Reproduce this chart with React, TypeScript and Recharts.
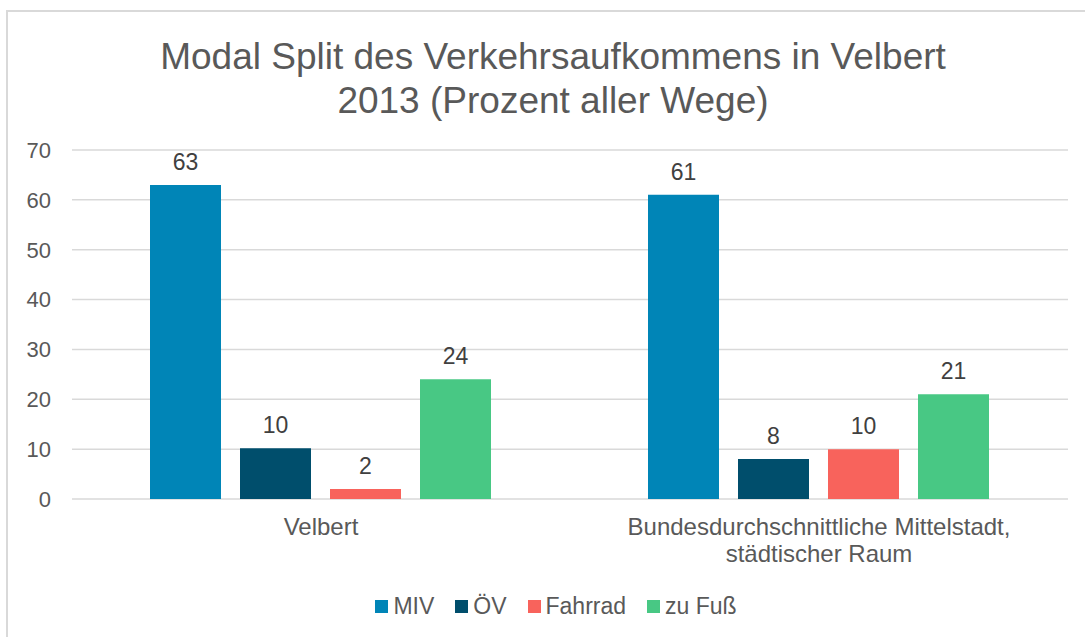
import React from "react";
import { BarChart, Bar, XAxis, YAxis, CartesianGrid, Legend, LabelList } from "recharts";

const categories = ["Velbert", "Bundesdurchschnittliche Mittelstadt, städtischer Raum"];
const miv = [63, 61];
const oev = [10.2, 8];
const fahrrad = [2, 10];
const zuFuss = [24, 21];
const yTicks = [0, 10, 20, 30, 40, 50, 60, 70];

const seriesNames = ["MIV", "ÖV", "Fahrrad", "zu Fuß"];
const seriesKeys = ["miv", "oev", "fahrrad", "zuFuss"];
const seriesColors = ["#0085B7", "#004E6C", "#F8635C", "#48C884"];

const data = categories.map((c, i) => ({
  name: c,
  miv: miv[i],
  oev: oev[i],
  fahrrad: fahrrad[i],
  zuFuss: zuFuss[i],
}));

const FONT = "'Liberation Sans', Arial, sans-serif";

const XTick = (props: any) => {
  const { x, y, payload } = props;
  const v: string = payload.value;
  const idx = v.indexOf(", ");
  const lines = idx >= 0 ? [v.slice(0, idx + 1), v.slice(idx + 2)] : [v];
  return (
    <text x={x} y={y} textAnchor="middle" fill="#595959" fontSize={24} fontFamily={FONT}>
      {lines.map((l, i) => (
        <tspan key={i} x={x} dy={i === 0 ? 28 : 27}>
          {l}
        </tspan>
      ))}
    </text>
  );
};

const LegendContent = () => (
  <div
    style={{
      display: "flex",
      justifyContent: "center",
      alignItems: "center",
      fontFamily: FONT,
      fontSize: 23,
      lineHeight: "27px",
      color: "#595959",
      paddingLeft: 44,
    }}
  >
    {seriesNames.map((n, i) => (
      <div key={n} style={{ display: "flex", alignItems: "center", marginRight: i < 3 ? 21 : 0 }}>
        <div style={{ width: 13, height: 13, background: seriesColors[i], marginRight: 5 }} />
        <span>{n}</span>
      </div>
    ))}
  </div>
);

export default function App() {
  return (
    <div style={{ position: "absolute", left: 0, top: 0, width: 1085, height: 637, background: "#fff", overflow: "hidden" }}>
      <div
        style={{
          position: "absolute",
          left: 6,
          top: 10,
          width: 1079,
          height: 627,
          borderLeft: "2px solid #d9d9d9",
          borderTop: "2px solid #d9d9d9",
        }}
      />
      <div
        style={{
          position: "absolute",
          left: 0,
          top: 35,
          width: 1106,
          textAlign: "center",
          fontFamily: FONT,
          fontSize: 37,
          lineHeight: "44px",
          color: "#595959",
        }}
      >
        <div>Modal Split des Verkehrsaufkommens in Velbert</div>
        <div>2013 (Prozent aller Wege)</div>
      </div>
      <div style={{ position: "absolute", left: 0, top: 0 }}>
        <BarChart
          width={1085}
          height={637}
          data={data}
          margin={{ top: 150, right: 17, left: 0, bottom: 31 }}
          barGap={19}
          barCategoryGap={78}
        >
          <CartesianGrid vertical={false} stroke="#d9d9d9" strokeWidth={1.5} />
          <XAxis
            dataKey="name"
            axisLine={false}
            tickLine={false}
            interval={0}
            height={80}
            tick={<XTick />}
          />
          <YAxis
            width={72}
            domain={[0, 70]}
            ticks={yTicks}
            axisLine={false}
            tickLine={false}
            tickMargin={15}
            tick={{ fill: "#595959", fontSize: 22, fontFamily: FONT }}
          />
          <Legend verticalAlign="bottom" content={<LegendContent />} wrapperStyle={{ bottom: 17 }} />
          {seriesKeys.map((k, i) => (
            <Bar key={k} dataKey={k} name={seriesNames[i]} fill={seriesColors[i]} isAnimationActive={false}>
              <LabelList
                dataKey={k}
                position="top"
                offset={15}
                formatter={(v: any) => Math.round(Number(v))}
                style={{ fill: "#404040", fontSize: 23, fontFamily: FONT }}
              />
            </Bar>
          ))}
        </BarChart>
      </div>
    </div>
  );
}
